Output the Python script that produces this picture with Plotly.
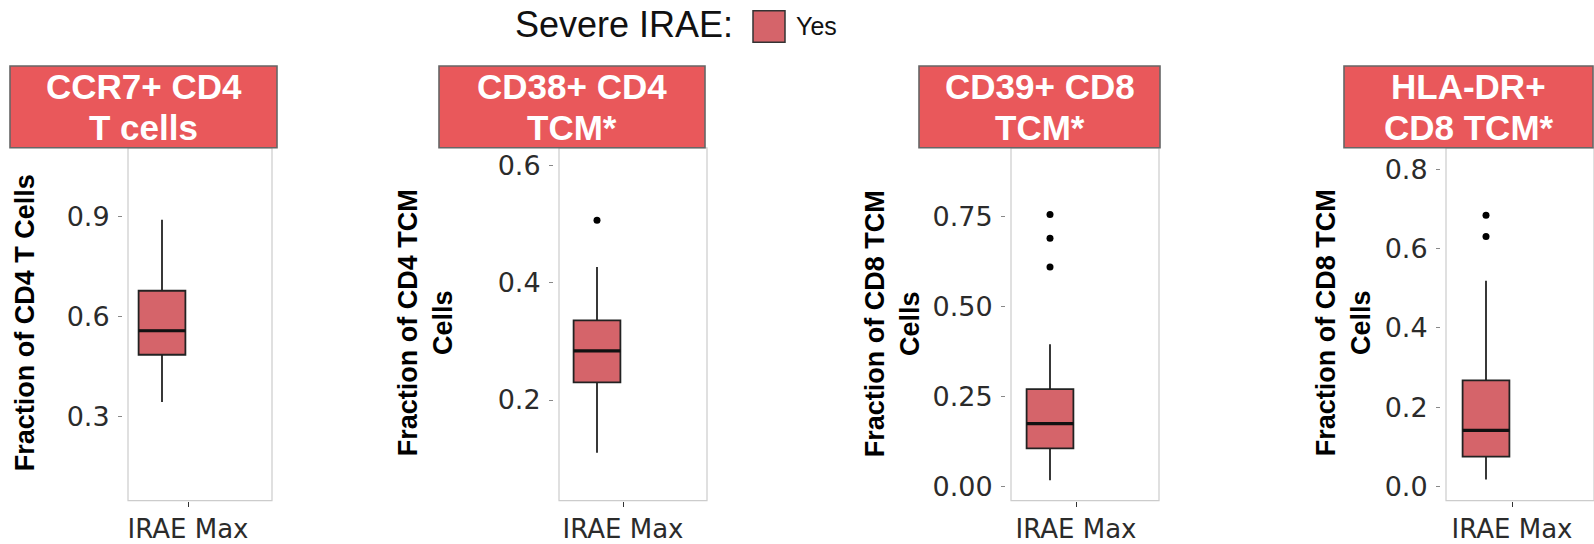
import plotly.graph_objects as go

W, H = 1594, 544

# ---- data ----
panel_titles = ["CCR7+ CD4<br>T cells", "CD38+ CD4<br>TCM*", "CD39+ CD8<br>TCM*", "HLA-DR+<br>CD8 TCM*"]
y_titles = ["Fraction of CD4 T Cells", "Fraction of CD4 TCM<br>Cells",
            "Fraction of CD8 TCM<br>Cells", "Fraction of CD8 TCM<br>Cells"]
category = "IRAE Max"
group_label = "Yes"
legend_title = "Severe IRAE:"

q1 = [0.486, 0.230, 0.105, 0.076]
median = [0.558, 0.284, 0.174, 0.142]
q3 = [0.678, 0.336, 0.270, 0.268]
lower_whisker = [0.344, 0.110, 0.0165, 0.018]
upper_whisker = [0.891, 0.427, 0.395, 0.519]
outliers = [[], [0.507], [0.756, 0.690, 0.610], [0.684, 0.630]]

y_tickvals = [[0.3, 0.6, 0.9], [0.2, 0.4, 0.6], [0.0, 0.25, 0.5, 0.75], [0.0, 0.2, 0.4, 0.6, 0.8]]
y_ticktext = [["0.3", "0.6", "0.9"], ["0.2", "0.4", "0.6"],
              ["0.00", "0.25", "0.50", "0.75"], ["0.0", "0.2", "0.4", "0.6", "0.8"]]

# ---- layout/style (pixels) ----
frame_x = [(128, 272), (559, 707), (1011, 1159), (1446, 1594)]
tick_x = [188, 623, 1076, 1512]
strip_x = [(10, 277), (439, 705), (919, 1160), (1344, 1593)]
strip_line_y = [88, 129.5]
ytitle_x = [25, 425, 892, 1343]
y_ranges = [[0.0485, 1.107], [0.0283, 0.6308], [-0.0403, 0.942], [-0.0347, 0.8536]]
plot_top, plot_bot = 150, 508
strip_top = 67
PPU = 130.0
box_x = -0.2
box_w = 0.36

STRIP_FILL = "#E9585B"
BOX_FILL = "#D5646A"
TICK_FONT = dict(family="DejaVu Sans", size=27, color="#2b2b2b")


def px(x):
    return x / W


def py(y):
    return 1 - y / H


fig = go.Figure()
shapes = []
annotations = []

for i in range(4):
    xa = "x" if i == 0 else f"x{i+1}"
    ya = "y" if i == 0 else f"y{i+1}"
    fig.add_trace(go.Box(
        x=[box_x], q1=[q1[i]], median=[median[i]], q3=[q3[i]],
        lowerfence=[lower_whisker[i]], upperfence=[upper_whisker[i]],
        width=box_w, whiskerwidth=0, fillcolor=BOX_FILL,
        line=dict(color="#222222", width=1.8), boxpoints=False,
        name=group_label, showlegend=False, xaxis=xa, yaxis=ya,
    ))
    fig.add_trace(go.Scatter(
        x=[box_x - box_w / 2, box_x + box_w / 2], y=[median[i], median[i]],
        mode="lines", line=dict(color="#111111", width=3.2),
        showlegend=False, hoverinfo="skip", xaxis=xa, yaxis=ya,
    ))
    if outliers[i]:
        fig.add_trace(go.Scatter(
            x=[box_x] * len(outliers[i]), y=outliers[i], mode="markers",
            marker=dict(color="black", size=7), showlegend=False,
            xaxis=xa, yaxis=ya,
        ))

    fl, fr = frame_x[i]
    t = tick_x[i]
    xkey = "xaxis" if i == 0 else f"xaxis{i+1}"
    ykey = "yaxis" if i == 0 else f"yaxis{i+1}"
    fig.layout[xkey] = dict(
        domain=[px(fl), px(fr)], range=[(fl - t) / PPU, (fr - t) / PPU],
        anchor=ya, tickvals=[0], ticktext=[category], ticks="outside",
        ticklen=5, tickcolor="#333333", tickwidth=1.2,
        tickfont=dict(family="DejaVu Sans", size=26, color="#2b2b2b"),
        showgrid=False, zeroline=False, showline=False, fixedrange=True,
        ticklabelstandoff=0,
    )
    fig.layout[ykey] = dict(
        domain=[py(plot_bot), py(plot_top)], range=y_ranges[i],
        anchor="free", position=px(fl - 6), tickvals=y_tickvals[i], ticktext=y_ticktext[i],
        ticks="outside", ticklen=4, tickcolor="#888888", tickwidth=1,
        tickfont=TICK_FONT, showgrid=False, zeroline=False, showline=False,
        ticklabelstandoff=3, fixedrange=True,
    )
    # panel frame
    shapes.append(dict(type="rect", xref=f"{xa} domain", yref=f"{ya} domain",
                       x0=0, x1=1, y0=0, y1=1, line=dict(color="#cccccc", width=1.2),
                       fillcolor="rgba(0,0,0,0)", layer="below"))
    # strip
    sl, sr = strip_x[i]
    shapes.append(dict(type="rect", xref="paper", yref="paper",
                       x0=px(sl), x1=px(sr), y0=py(plot_top), y1=py(strip_top),
                       fillcolor=STRIP_FILL, line=dict(color="#666666", width=1.6)))
    for line_text, ly in zip(panel_titles[i].split("<br>"), strip_line_y):
        annotations.append(dict(text=f"<b>{line_text}</b>", xref="paper", yref="paper",
                                x=px((sl + sr) / 2), y=py(ly),
                                xanchor="center", yanchor="middle", showarrow=False,
                                font=dict(family="Liberation Sans", size=35, color="white")))
    annotations.append(dict(text=f"<b>{y_titles[i]}</b>", xref="paper", yref="paper",
                            x=px(ytitle_x[i]), y=py(328), textangle=-90,
                            xanchor="center", yanchor="middle", showarrow=False,
                            font=dict(family="Liberation Sans", size=27, color="black")))

# legend
annotations.append(dict(text=legend_title, xref="paper", yref="paper", x=px(735), y=py(25),
                        xanchor="right", yanchor="middle", showarrow=False,
                        font=dict(family="Liberation Sans", size=36, color="#111111")))
shapes.append(dict(type="rect", xref="paper", yref="paper", x0=px(753), x1=px(785),
                   y0=py(43), y1=py(11), fillcolor=BOX_FILL, line=dict(color="#333333", width=1.5)))
annotations.append(dict(text=group_label, xref="paper", yref="paper", x=px(794), y=py(26),
                        xanchor="left", yanchor="middle", showarrow=False,
                        font=dict(family="Liberation Sans", size=25, color="#111111")))

fig.update_layout(width=W, height=H, margin=dict(l=0, r=0, t=0, b=0),
                  paper_bgcolor="white", plot_bgcolor="white",
                  shapes=shapes, annotations=annotations, showlegend=False)

fig.write_html("out.html", config={"displayModeBar": False},
               post_script="document.body.style.margin='0';document.body.style.overflow='hidden';")
